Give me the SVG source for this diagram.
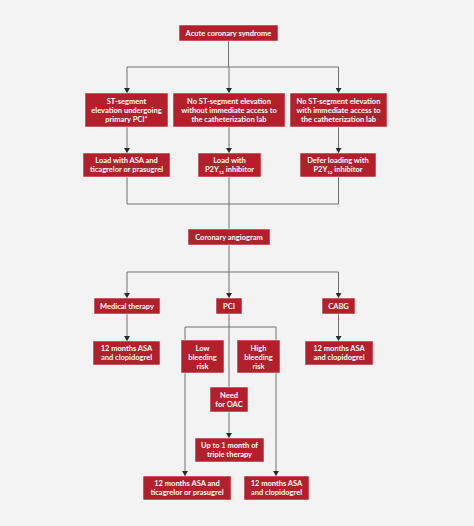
<svg xmlns="http://www.w3.org/2000/svg" width="474" height="526" viewBox="0 0 474 526">
<style>
.bg{fill:#f3f3f3}
.box{fill:#b3202c;stroke:#ffffff;stroke-width:0.5}
.t{font-family:Lato,"Liberation Sans",sans-serif;font-weight:bold;font-size:7.5px;fill:#ffffff;text-anchor:middle}
.c{stroke:#707070;stroke-width:1;fill:none}
.a{stroke:#707070;stroke-width:1;fill:none;marker-end:url(#arr)}
</style>
<defs>
<marker id="arr" markerUnits="userSpaceOnUse" markerWidth="5" markerHeight="6" refX="5" refY="3" orient="auto" viewBox="0 0 5 6">
<path d="M0,0 L5,3 L0,6 Z" fill="#2a2a2a"/>
</marker>
</defs>
<rect class="bg" x="0" y="0" width="474" height="526"/>
<g id="connectors">
<path class="c" d="M228.5,41 V67 M127,67 H338.5"/>
<path class="a" d="M127,67 V93"/>
<path class="a" d="M229,67 V93"/>
<path class="a" d="M338.5,67 V93"/>
<path class="a" d="M127,127 V153"/>
<path class="a" d="M229,127 V153"/>
<path class="a" d="M338.5,127 V153"/>
<path class="c" d="M127,177 V204 H338.5 V177 M229,177 V229"/>
<path class="c" d="M229,245 V272 M127,272 H338.5"/>
<path class="a" d="M127,272 V298"/>
<path class="a" d="M229,272 V298"/>
<path class="a" d="M338.5,272 V298"/>
<path class="a" d="M127,314 V341"/>
<path class="a" d="M338.5,314 V341"/>
<path class="c" d="M229,314 V387 M185,327 H276"/>
<path class="a" d="M185,327 V476"/>
<path class="a" d="M276,327 V476"/>
<path class="a" d="M229,412 V438"/>
</g>
<g id="acs"><rect class="box" x="179" y="25" width="99" height="16"/><text class="t" x="228.5" y="35.7">Acute coronary syndrome</text></g>
<g id="stemi"><rect class="box" x="85" y="93" width="83" height="34"/><text class="t" x="126.5" y="104">ST-segment</text><text class="t" x="126.5" y="113">elevation undergoing</text><text class="t" x="126.5" y="122">primary PCI*</text></g>
<g id="nste-noaccess"><rect class="box" x="173" y="93" width="112" height="34"/><text class="t" x="229" y="104">No ST-segment elevation</text><text class="t" x="229" y="113">without immediate access to</text><text class="t" x="229" y="122">the catheterization lab</text></g>
<g id="nste-access"><rect class="box" x="290" y="93" width="97" height="34"/><text class="t" x="338.5" y="104">No ST-segment elevation</text><text class="t" x="338.5" y="113">with immediate access to</text><text class="t" x="338.5" y="122">the catheterization lab</text></g>
<g id="load-asa"><rect class="box" x="83" y="153" width="87" height="24"/><text class="t" x="126.5" y="163">Load with ASA and</text><text class="t" x="126.5" y="172">ticagrelor or prasugrel</text></g>
<g id="load-p2y12"><rect class="box" x="198" y="153" width="63" height="24"/><text class="t" x="229.5" y="163">Load with</text><text class="t" x="229.5" y="172">P2Y<tspan font-size="4.5" dy="1.5">12</tspan><tspan dy="-1.5"> inhibitor</tspan></text></g>
<g id="defer"><rect class="box" x="300" y="153" width="76" height="24"/><text class="t" x="338" y="163">Defer loading with</text><text class="t" x="338" y="172">P2Y<tspan font-size="4.5" dy="1.5">12</tspan><tspan dy="-1.5"> inhibitor</tspan></text></g>
<g id="angiogram"><rect class="box" x="188" y="229" width="82" height="16"/><text class="t" x="229" y="239.7">Coronary angiogram</text></g>
<g id="medical"><rect class="box" x="94" y="298" width="66" height="16"/><text class="t" x="127" y="308.7">Medical therapy</text></g>
<g id="pci"><rect class="box" x="216" y="298" width="26" height="16"/><text class="t" x="229" y="308.7">PCI</text></g>
<g id="cabg"><rect class="box" x="322" y="298" width="33" height="16"/><text class="t" x="338.5" y="308.7">CABG</text></g>
<g id="med-12m"><rect class="box" x="93" y="341" width="67" height="24"/><text class="t" x="126.5" y="351">12 months ASA</text><text class="t" x="126.5" y="360">and clopidogrel</text></g>
<g id="cabg-12m"><rect class="box" x="305" y="341" width="68" height="24"/><text class="t" x="339" y="351">12 months ASA</text><text class="t" x="339" y="360">and clopidogrel</text></g>
<g id="low-bleed"><rect class="box" x="181" y="340" width="43" height="33"/><text class="t" x="202.5" y="351">Low</text><text class="t" x="202.5" y="360">bleeding</text><text class="t" x="202.5" y="369">risk</text></g>
<g id="high-bleed"><rect class="box" x="237" y="340" width="43" height="33"/><text class="t" x="258.5" y="351">High</text><text class="t" x="258.5" y="360">bleeding</text><text class="t" x="258.5" y="369">risk</text></g>
<g id="oac"><rect class="box" x="210" y="387" width="38" height="25"/><text class="t" x="229" y="397.5">Need</text><text class="t" x="229" y="406.5">for OAC</text></g>
<g id="triple"><rect class="box" x="195" y="438" width="69" height="24"/><text class="t" x="229.5" y="448">Up to 1 month of</text><text class="t" x="229.5" y="457">triple therapy</text></g>
<g id="pci-low-12m"><rect class="box" x="143" y="476" width="88" height="24"/><text class="t" x="187" y="486">12 months ASA and</text><text class="t" x="187" y="495">ticagrelor or prasugrel</text></g>
<g id="pci-high-12m"><rect class="box" x="244" y="476" width="65" height="24"/><text class="t" x="276.5" y="486">12 months ASA</text><text class="t" x="276.5" y="495">and clopidogrel</text></g>
</svg>
